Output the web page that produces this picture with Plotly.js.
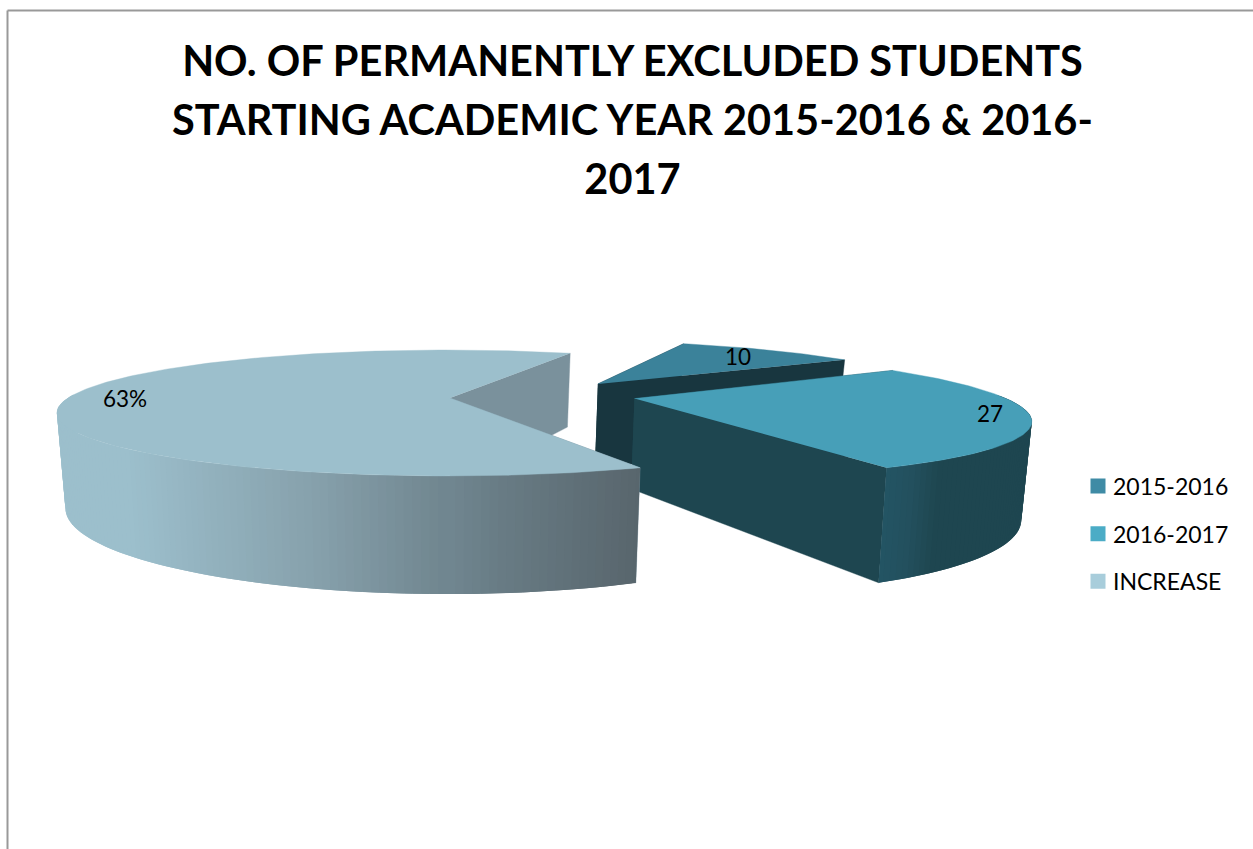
<!DOCTYPE html>
<html>
<head>
<meta charset="utf-8">
<script src="https://cdn.plot.ly/plotly-3.0.1.min.js"></script>
<style>html,body{margin:0;padding:0;background:#fff;overflow:hidden}</style>
</head>
<body>
<div id="chart" style="width:1253px;height:849px"></div>
<script>
// Chart content
const categories = ['2015-2016', '2016-2017', 'INCREASE'];
const values = [10, 27, 63];
const labelSuffix = ['', '', '%'];
const chartTitle = 'NO. OF PERMANENTLY EXCLUDED STUDENTS<br>STARTING ACADEMIC YEAR 2015-2016 &amp; 2016-<br>2017';

// Colours per slice
const legendColors = ['#3f8ba5', '#4bacc6', '#a8cddb'];
const topColors = ['#3b829a', '#479fb8', '#9cbfcc'];
const innerColors = ['#18363f', '#1e4650', '#7a919c'];

// Perspective model of the exploded pie (screen units on a pixel-scaled axis)
const VIEW = {xp: 445, y0: 398, k: 0.238, b: 59.4, depth: 90};
const SHRINK = [0.98, 0.982, 0.978];
const RADIUS = [360, 371, 379];
const OFFSET_X = [162, 189, 2];
const APEX_DX = [0, 0, 3];
const OFFSET_V = [-0.25, 0.01, 0];
const SPIN = [0, 1.5, 0];
const FIRST_ANGLE = 156.6;     // where the first slice starts, degrees from the near side
const LABEL_X = [738, 990, 125];
const LABEL_Y = [359, 416, 401];

function project(i, deg, lower) {
  const t = deg * Math.PI / 180;
  return projectLocal(i, Math.sin(t) * RADIUS[i], Math.cos(t) + OFFSET_V[i], lower);
}
function projectLocal(i, du, v, lower) {
  const s = 1 / (1 - VIEW.k * v);
  let x = VIEW.xp + (OFFSET_X[i] + du) * s;
  let y = VIEW.y0 + VIEW.b * v * s;
  if (lower) {
    x = VIEW.xp + (x - VIEW.xp) * SHRINK[i];
    y += VIEW.depth * s;
  }
  return [x, y];
}
function lerpColor(stops, f) {
  f = Math.max(0, Math.min(1, f));
  for (let n = 1; n < stops.length; n++) {
    if (f <= stops[n][0]) {
      const a = stops[n - 1], b = stops[n];
      const w = (f - a[0]) / (b[0] - a[0] || 1);
      const c = a[1].map((val, idx) => Math.round(val + (b[1][idx] - val) * w));
      return `rgb(${c[0]},${c[1]},${c[2]})`;
    }
  }
  return '#000';
}

// Outer wall shading, as a function of horizontal position
function wallColor(i, x) {
  if (i === 2) {
    return lerpColor([[0, [156, 191, 204]], [0.12, [156, 191, 204]], [0.45, [134, 160, 171]],
      [0.75, [104, 124, 133]], [1, [88, 101, 108]]], (x - 60) / 580);
  }
  if (i === 1) {
    return lerpColor([[0, [35, 85, 100]], [0.2, [35, 80, 94]], [0.38, [30, 70, 80]], [1, [30, 70, 80]]], (x - 880) / 150);
  }
  return '#18363f';
}

function polygon(xy, color, lineWidth) {
  return {
    type: 'scatter', mode: 'lines', fill: 'toself', fillcolor: color,
    x: xy.map(p => p[0]), y: xy.map(p => p[1]),
    line: {color: color, width: lineWidth}, hoverinfo: 'skip', showlegend: false
  };
}
const cosd = a => Math.cos(a * Math.PI / 180);

// Slice angles follow the values, running clockwise as seen from above
const total = values.reduce((a, b) => a + b, 0);
const traces = [];
let cursor = FIRST_ANGLE;
values.forEach((val, i) => {
  const sweep = val / total * 360;
  const start = cursor + SPIN[i], end = cursor - sweep + SPIN[i];
  cursor -= sweep;

  const apexT = projectLocal(i, APEX_DX[i], OFFSET_V[i], false);
  const apexB = projectLocal(i, APEX_DX[i], OFFSET_V[i], true);
  // Radial walls
  [start, end].sort((a, b) => cosd(a) - cosd(b)).forEach(a => {
    traces.push(polygon([apexT, project(i, a, false), project(i, a, true), apexB], innerColors[i], 0.4));
  });
  // Front part of the outer wall; strips overlap so no seams show between them
  const step = 1;
  const strips = [];
  for (let a = start; a > end; a -= step) {
    const lo = Math.max(a - step, end);
    if (cosd((a + lo) / 2) > -0.05) strips.push([a, lo]);
  }
  strips.sort((p, q) => cosd(p[0]) + cosd(p[1]) - cosd(q[0]) - cosd(q[1]));
  strips.forEach(([a, b]) => {
    const hi = Math.min(a + 0.5, start), lo = Math.max(b - 0.5, end);
    const p = [project(i, hi, false), project(i, lo, false), project(i, lo, true), project(i, hi, true)];
    const mid = (project(i, a, false)[0] + project(i, b, false)[0]) / 2;
    traces.push(polygon(p, wallColor(i, mid), 0));
  });
  // Top face
  const rim = [];
  for (let a = start; a > end; a -= 1) rim.push(project(i, a, false));
  rim.push(project(i, end, false));
  traces.push(polygon([apexT, ...rim], topColors[i], 0.4));
});

// Data labels
traces.push({
  type: 'scatter', mode: 'text', x: LABEL_X, y: LABEL_Y,
  text: values.map((v, i) => v + labelSuffix[i]), textposition: 'middle center',
  textfont: {family: 'Lato, sans-serif', size: 22.5, color: '#000'},
  hoverinfo: 'skip', showlegend: false
});

// Legend entries
categories.forEach((name, i) => {
  traces.push({
    type: 'scatter', mode: 'markers', name: name, x: [null], y: [null],
    legendgroup: name,
    marker: {symbol: 'square', size: 15, color: legendColors[i]}
  });
});

const layout = {
  width: 1253, height: 849,
  margin: {l: 0, r: 0, t: 0, b: 0},
  paper_bgcolor: '#fff', plot_bgcolor: '#fff',
  title: {
    text: chartTitle.split('<br>').map(s => `<span style="font-size:41.5px">${s}</span>`).join('<br>'),
    font: {family: 'Lato, sans-serif', size: 45.5, color: '#000', weight: 700},
    x: 632.5 / 1253, xanchor: 'center', y: 0.985 - 63 / 849, yanchor: 'top', yref: 'container'
  },
  xaxis: {range: [0, 1253], visible: false, fixedrange: true},
  yaxis: {range: [849, 0], visible: false, fixedrange: true},
  legend: {
    x: 1078 / 1253, y: 1 - 464.5 / 849, xanchor: 'left', yanchor: 'top',
    font: {family: 'Lato, sans-serif', size: 23, color: '#000'},
    tracegroupgap: 14.8, itemclick: false, itemdoubleclick: false, bgcolor: 'rgba(0,0,0,0)'
  },
  shapes: [
    {type: 'line', xref: 'x', yref: 'y', x0: 7.5, x1: 7.5, y0: 10.5, y1: 849, line: {color: '#999', width: 2}},
    {type: 'line', xref: 'x', yref: 'y', x0: 7.5, x1: 1253, y0: 10.5, y1: 10.5, line: {color: '#999', width: 2}}
  ],
  showlegend: true
};

Plotly.newPlot('chart', traces, layout, {displayModeBar: false}).then(() => {
  // Tighten the gap between legend swatches and their text
  document.querySelectorAll('.legend .legendtext').forEach(t => {
    t.setAttribute('x', parseFloat(t.getAttribute('x')) - 5);
  });
});
</script>
</body>
</html>
